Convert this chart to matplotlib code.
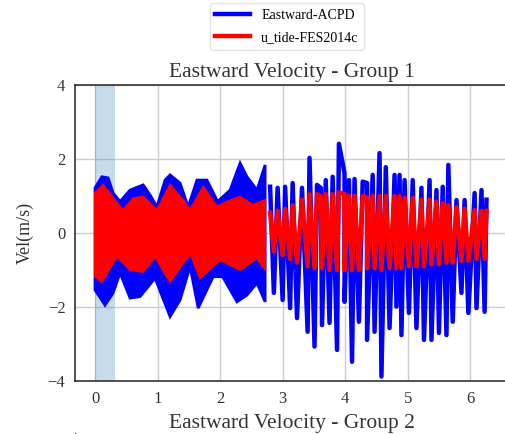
import matplotlib
matplotlib.use("Agg")
import matplotlib.pyplot as plt
import numpy as np

plt.rcParams["font.family"] = ["Liberation Serif", "DejaVu Serif"]

# first stretch (dense record): envelopes of the two series
acpd_top_x = [0.00, 0.11, 0.21, 0.29, 0.40, 0.56, 0.77, 0.88, 0.99, 1.12, 1.20,
              1.36, 1.49, 1.63, 1.79, 1.96, 2.16, 2.32, 2.43, 2.59, 2.72]
acpd_top = [1.22, 1.52, 1.49, 1.08, 0.85, 1.16, 1.30, 1.03, 0.71, 1.43, 1.57,
            1.35, 0.71, 1.43, 1.43, 0.85, 1.16, 1.89, 1.52, 1.16, 1.84]
acpd_bot_x = [0.00, 0.16, 0.29, 0.40, 0.56, 0.72, 0.96, 1.20, 1.36, 1.52, 1.65,
              1.89, 2.04, 2.27, 2.43, 2.59, 2.72]
acpd_bot = [-1.54, -1.95, -1.62, -1.08, -1.76, -1.72, -1.22, -2.26, -1.81, -0.91,
            -2.03, -1.18, -1.18, -1.86, -1.68, -1.35, -1.86]

fes_top_x = [0.00, 0.13, 0.29, 0.45, 0.61, 0.77, 0.99, 1.20, 1.41, 1.52, 1.73,
             1.95, 2.11, 2.32, 2.52, 2.72]
fes_top = [1.08, 1.30, 0.94, 0.62, 0.94, 0.98, 0.62, 1.30, 0.89, 0.62, 1.25,
           0.71, 0.85, 0.98, 0.76, 0.89]
fes_bot_x = [0.00, 0.11, 0.35, 0.56, 0.77, 0.96, 1.20, 1.52, 1.68, 2.00, 2.32,
             2.59, 2.72]
fes_bot = [-1.18, -1.32, -0.64, -1.00, -1.05, -0.64, -1.32, -0.55, -1.22, -0.73,
           -1.00, -0.68, -1.00]

# second stretch: individual crests and troughs
crest_x = [2.80, 2.92, 3.04, 3.16, 3.31, 3.43, 3.55, 3.61, 3.69, 3.80, 3.90,
           3.99, 4.06, 4.15, 4.28, 4.35, 4.44, 4.55, 4.65, 4.79, 4.87, 4.95,
           5.08, 5.22, 5.35, 5.46, 5.56, 5.65, 5.78, 5.91, 6.07, 6.18, 6.26]
acpd_crest = [1.25, 1.22, 1.25, 1.35, 1.22, 2.03, 1.30, 1.22, 1.43, 1.52, 2.41,
              1.62, 1.43, 1.46, 1.39, 1.35, 1.57, 2.16, 1.78, 1.57, 1.57, 1.43,
              1.43, 1.22, 1.43, 1.16, 1.25, 1.84, 0.89, 0.89, 1.08, 1.16, 0.90]
fes_crest = [0.55, 0.60, 0.65, 0.75, 0.90, 1.05, 1.05, 1.00, 1.05, 1.05, 1.10,
             1.05, 1.00, 1.00, 1.00, 0.95, 1.00, 1.00, 1.00, 1.00, 1.00, 0.95,
             0.95, 0.90, 0.90, 0.85, 0.80, 0.75, 0.70, 0.65, 0.62, 0.60, 0.60]

trough_x = [2.86, 3.00, 3.12, 3.23, 3.40, 3.51, 3.63, 3.75, 3.87, 3.99, 4.11,
            4.22, 4.35, 4.47, 4.58, 4.71, 4.82, 4.90, 5.02, 5.14, 5.26, 5.38,
            5.50, 5.62, 5.72, 5.86, 5.97, 6.10, 6.23]
acpd_trough = [-1.62, -1.81, -2.03, -2.30, -2.67, -3.07, -2.49, -2.43, -3.16,
               -1.86, -3.48, -2.40, -2.89, -2.67, -3.88, -2.57, -1.99, -2.76,
               -2.16, -2.57, -2.89, -2.89, -2.70, -2.76, -2.40, -1.62, -2.16,
               -2.03, -2.13]
fes_trough = [-0.50, -0.60, -0.70, -0.80, -0.90, -0.95, -0.95, -1.00, -1.00,
              -1.00, -1.00, -1.00, -0.95, -0.95, -1.00, -0.95, -0.95, -0.95,
              -0.90, -0.90, -0.90, -0.85, -0.85, -0.80, -0.80, -0.75, -0.75,
              -0.70, -0.70]

span_x = [0.0, 0.32]


def zigzag(xa, ya, xb, yb):
    x = np.r_[xa, xb]
    y = np.r_[ya, yb]
    order = np.argsort(x, kind="stable")
    return x[order], y[order]


def band(xt, yt, xb, yb):
    return np.r_[xt, xb[::-1]], np.r_[yt, yb[::-1]]


fig = plt.figure(figsize=(5.05, 4.34), dpi=100)
ax = fig.add_axes([75 / 505, 53 / 434, 434 / 505, 296 / 434])

ax.axvspan(span_x[0], span_x[1], color="C0", alpha=0.25, lw=0)

bx, by = band(np.array(acpd_top_x), np.array(acpd_top),
              np.array(acpd_bot_x), np.array(acpd_bot))
ax.fill(bx, by, color="blue", lw=2, zorder=2)
zx, zy = zigzag(crest_x, acpd_crest, trough_x, acpd_trough)
ax.plot(zx, zy, color="blue", lw=3.2, label="Eastward-ACPD", zorder=2)

rx, ry = band(np.array(fes_top_x), np.array(fes_top),
              np.array(fes_bot_x), np.array(fes_bot))
ax.fill(rx, ry, color="red", lw=1.5, zorder=3)
zx, zy = zigzag(crest_x, fes_crest, trough_x, fes_trough)
ax.plot(zx, zy, color="red", lw=3.2, label="u_tide-FES2014c", zorder=3)

ax.set_xlim(-0.32, 6.62)
ax.set_ylim(-4, 4)
ax.set_xticks([0, 1, 2, 3, 4, 5, 6])
ax.set_yticks([-4, -2, 0, 2, 4])
ax.grid(True, color="#cccccc", lw=1)
ax.set_axisbelow(True)
ax.tick_params(length=0, labelsize=12, colors="#333333", pad=7)
for s in ax.spines.values():
    s.set_color("#333333")
    s.set_linewidth(1.2)
ax.set_ylabel("Vel(m/s)", fontsize=13, color="#333333", labelpad=10)
ax.set_title("Eastward Velocity - Group 1", fontsize=15.5, color="#333333")

ax.legend(loc="upper center", bbox_to_anchor=(287 / 505, 1 - 3 / 434),
          bbox_transform=fig.transFigure, borderaxespad=0, fontsize=10,
          handlelength=2.5, labelspacing=0.7, frameon=True,
          edgecolor="#dddddd")

# second panel starts at the bottom edge
ax2 = fig.add_axes([75 / 505, 0.003 - 0.682, 434 / 505, 0.682])
ax2.set_xlim(-0.32, 6.62)
ax2.set_ylim(-4, 4)
ax2.set_xticks([])
ax2.set_yticks([])
ax2.spines["top"].set_visible(False)
ax2.set_title("Eastward Velocity - Group 2", fontsize=15.5, color="#333333",
              pad=3.5)

fig.savefig("out.png", dpi=100)
